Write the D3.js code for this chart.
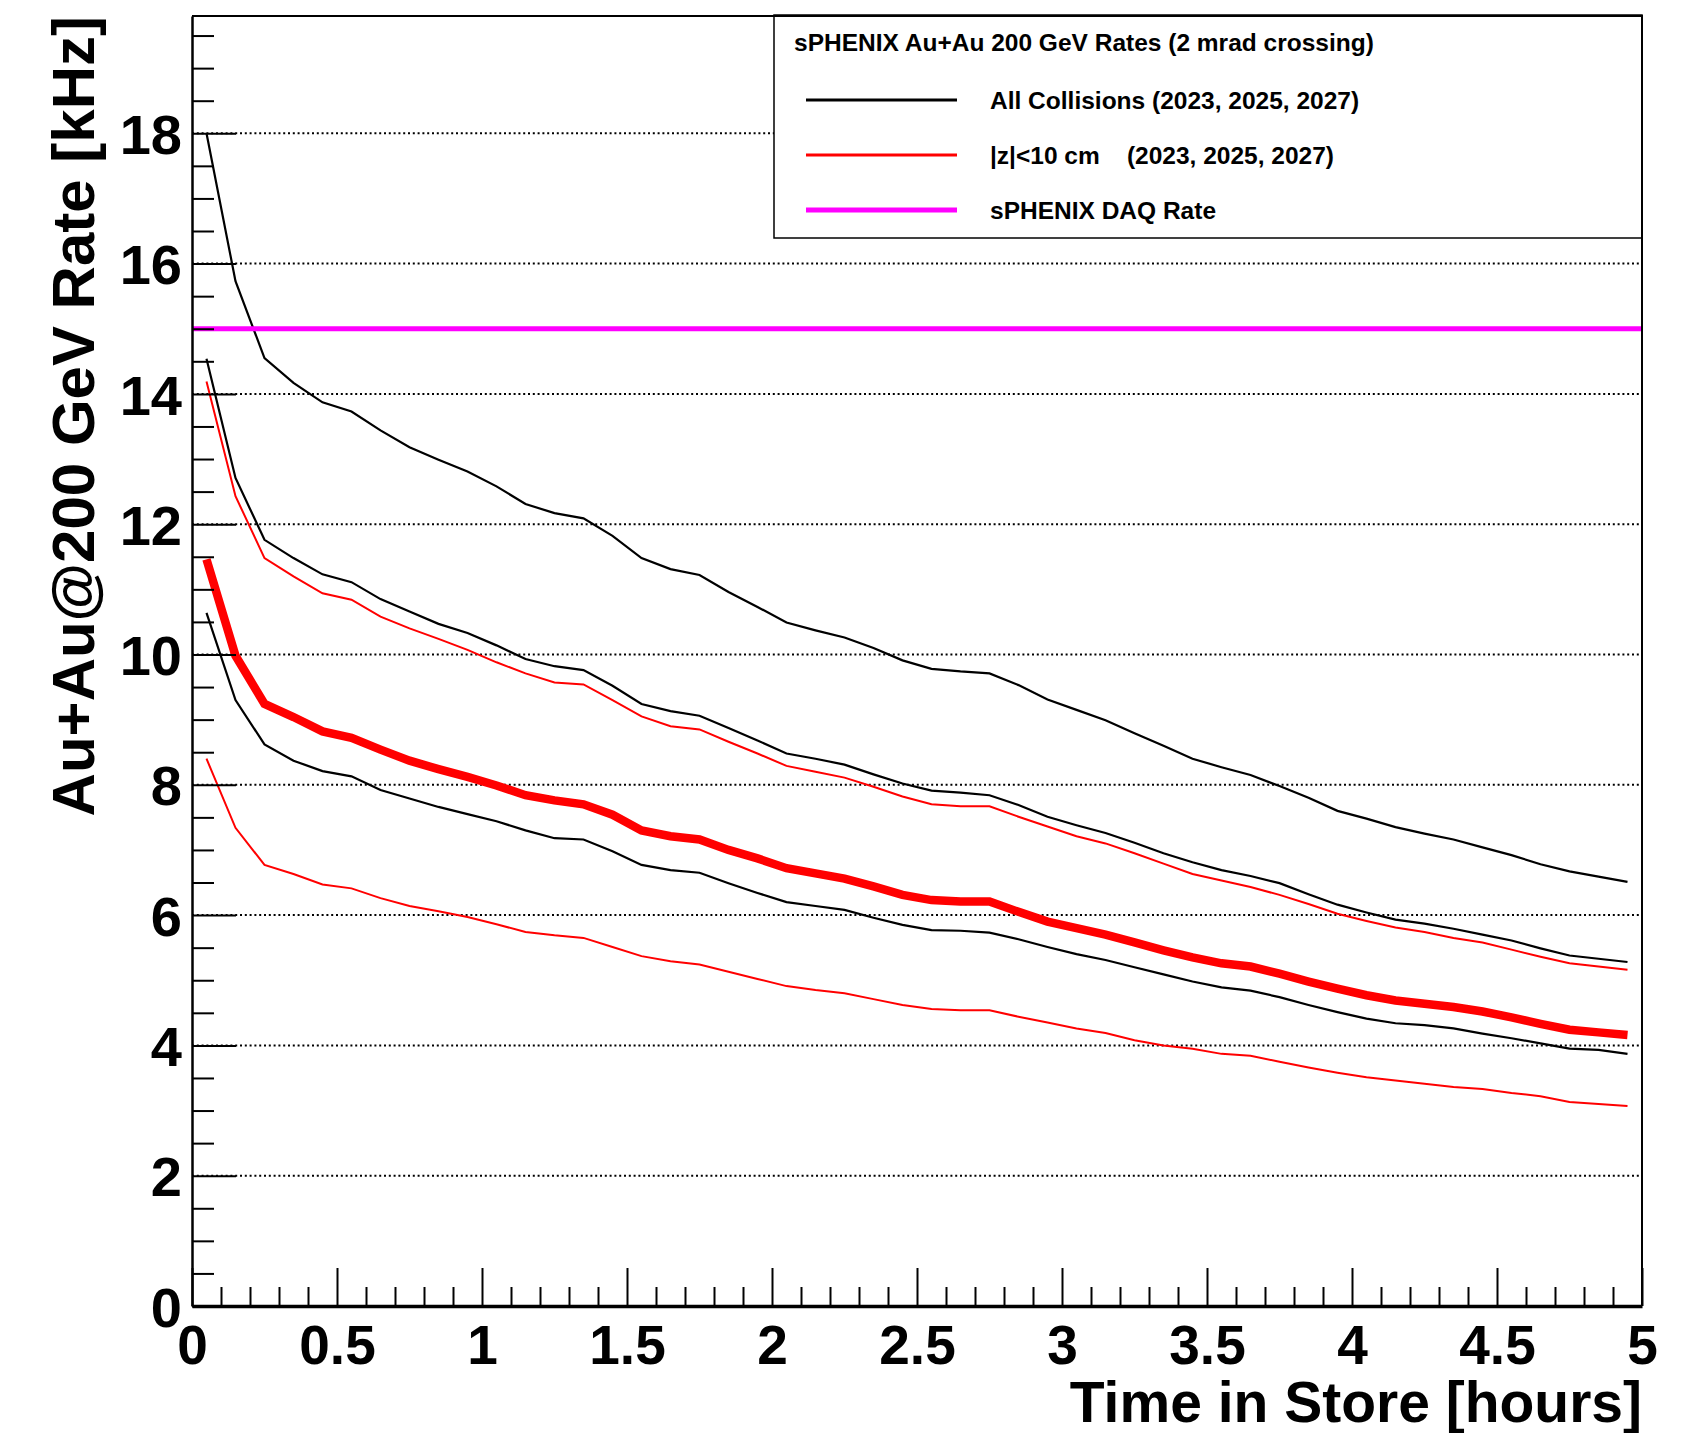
<!DOCTYPE html>
<meta charset="utf-8">
<head>
  <title>sPHENIX Au+Au 200 GeV rates</title>
</head>

<style>
  body {
    margin: 0;
    background: #fff;
  }
  svg {
    display: block;
    font-family: "Liberation Sans", Arial, Helvetica, sans-serif;
    font-weight: bold;
  }
  .grid line {
    stroke: #000;
    stroke-width: 2;
    stroke-dasharray: 2, 2.8;
  }
  .curve {
    fill: none;
  }
  .axis {
    font-family: "Liberation Sans", Arial, Helvetica, sans-serif;
    font-weight: bold;
  }
  .axis line {
    stroke: #000;
    stroke-width: 2;
  }
  .axis text {
    fill: #000;
  }
</style>

<body>
  <svg width="1681" height="1433"></svg>

  <script src="https://cdn.jsdelivr.net/npm/d3@7"></script>

  <script>
    // bin centres, hours in store
    var hours = [0.05, 0.15, 0.25, 0.35, 0.45, 0.55, 0.65, 0.75, 0.85, 0.95,
                 1.05, 1.15, 1.25, 1.35, 1.45, 1.55, 1.65, 1.75, 1.85, 1.95,
                 2.05, 2.15, 2.25, 2.35, 2.45, 2.55, 2.65, 2.75, 2.85, 2.95,
                 3.05, 3.15, 3.25, 3.35, 3.45, 3.55, 3.65, 3.75, 3.85, 3.95,
                 4.05, 4.15, 4.25, 4.35, 4.45, 4.55, 4.65, 4.75, 4.85, 4.95];

    // all collisions, three years (black)
    var allHigh = [18.0, 15.73, 14.55, 14.17, 13.87, 13.73, 13.44, 13.18, 12.99, 12.81,
                   12.58, 12.31, 12.17, 12.09, 11.82, 11.48, 11.31, 11.22, 10.96, 10.73,
                   10.49, 10.37, 10.26, 10.10, 9.91, 9.78, 9.74, 9.71, 9.53, 9.31,
                   9.15, 8.99, 8.79, 8.60, 8.40, 8.27, 8.15, 7.98, 7.80, 7.60,
                   7.48, 7.35, 7.25, 7.16, 7.04, 6.92, 6.78, 6.67, 6.59, 6.51];
    var allMid = [14.54, 12.71, 11.76, 11.48, 11.23, 11.11, 10.85, 10.66, 10.47, 10.33,
                  10.14, 9.93, 9.82, 9.76, 9.52, 9.24, 9.13, 9.06, 8.87, 8.68,
                  8.48, 8.40, 8.31, 8.16, 8.02, 7.91, 7.88, 7.84, 7.69, 7.51,
                  7.38, 7.26, 7.11, 6.95, 6.81, 6.69, 6.60, 6.49, 6.32, 6.16,
                  6.04, 5.93, 5.87, 5.79, 5.70, 5.61, 5.49, 5.38, 5.33, 5.28];
    var allLow = [10.64, 9.30, 8.62, 8.37, 8.21, 8.13, 7.92, 7.79, 7.66, 7.55,
                  7.44, 7.30, 7.18, 7.16, 6.98, 6.77, 6.69, 6.65, 6.49, 6.34,
                  6.20, 6.14, 6.08, 5.96, 5.85, 5.77, 5.76, 5.73, 5.63, 5.51,
                  5.40, 5.31, 5.20, 5.09, 4.98, 4.89, 4.84, 4.74, 4.62, 4.51,
                  4.41, 4.34, 4.31, 4.26, 4.18, 4.11, 4.03, 3.95, 3.93, 3.87];

    // |z|<10 cm, three years (red)
    var zHigh = [14.19, 12.43, 11.48, 11.20, 10.94, 10.84, 10.58, 10.40, 10.24, 10.07,
                 9.88, 9.71, 9.57, 9.54, 9.30, 9.05, 8.90, 8.85, 8.66, 8.48,
                 8.29, 8.20, 8.11, 7.97, 7.82, 7.70, 7.67, 7.67, 7.51, 7.36,
                 7.21, 7.10, 6.95, 6.79, 6.63, 6.53, 6.43, 6.31, 6.17, 6.02,
                 5.91, 5.81, 5.74, 5.65, 5.58, 5.47, 5.36, 5.26, 5.21, 5.16];
    var zThick = [11.46, 9.98, 9.24, 9.04, 8.82, 8.72, 8.54, 8.37, 8.24, 8.12,
                  7.99, 7.84, 7.76, 7.70, 7.54, 7.30, 7.21, 7.16, 7.00, 6.87,
                  6.72, 6.64, 6.56, 6.44, 6.31, 6.23, 6.21, 6.21, 6.05, 5.90,
                  5.80, 5.70, 5.58, 5.46, 5.35, 5.26, 5.21, 5.10, 4.98, 4.87,
                  4.77, 4.69, 4.64, 4.59, 4.52, 4.43, 4.33, 4.24, 4.20, 4.16];
    var zLow = [8.40, 7.34, 6.77, 6.63, 6.47, 6.41, 6.26, 6.14, 6.06, 5.97,
                5.86, 5.74, 5.69, 5.65, 5.51, 5.37, 5.29, 5.24, 5.13, 5.02,
                4.91, 4.85, 4.80, 4.71, 4.62, 4.56, 4.54, 4.54, 4.44, 4.35,
                4.26, 4.19, 4.08, 4.00, 3.95, 3.87, 3.84, 3.75, 3.66, 3.58,
                3.51, 3.46, 3.41, 3.36, 3.33, 3.27, 3.22, 3.13, 3.10, 3.07];

    var daqRate = 15;

    // axis ticks
    var yMajor = [0, 2, 4, 6, 8, 10, 12, 14, 16, 18];
    var yMinor = [0.5, 1, 1.5, 2.5, 3, 3.5, 4.5, 5, 5.5, 6.5, 7, 7.5, 8.5, 9, 9.5,
                  10.5, 11, 11.5, 12.5, 13, 13.5, 14.5, 15, 15.5, 16.5, 17, 17.5,
                  18.5, 19, 19.5];
    var xMajor = [0, 0.5, 1, 1.5, 2, 2.5, 3, 3.5, 4, 4.5, 5];
    var xMinor = [0.1, 0.2, 0.3, 0.4, 0.6, 0.7, 0.8, 0.9, 1.1, 1.2, 1.3, 1.4,
                  1.6, 1.7, 1.8, 1.9, 2.1, 2.2, 2.3, 2.4, 2.6, 2.7, 2.8, 2.9,
                  3.1, 3.2, 3.3, 3.4, 3.6, 3.7, 3.8, 3.9, 4.1, 4.2, 4.3, 4.4,
                  4.6, 4.7, 4.8, 4.9];

    var legendTitle = "sPHENIX Au+Au 200 GeV Rates (2 mrad crossing)";
    var legendLabels = ["All Collisions (2023, 2025, 2027)",
                        "|z|<10 cm\u00a0\u00a0\u00a0\u00a0(2023, 2025, 2027)",
                        "sPHENIX DAQ Rate"];
    var legendColors = ["#000", "#ff0000", "#ff00ff"];

    var svg = d3.select("svg");

    // plot frame
    var frameL = 192, frameR = 1642, frameT = 16, frameB = 1306;

    var x = d3.scaleLinear().domain([0, 5]).range([frameL, frameR]);
    var y = d3.scaleLinear().domain([0, 19.8]).range([frameB, frameT]);

    // dotted grid at the labelled y values
    svg.append("g")
        .attr("class", "grid")
      .selectAll("line")
        .data(yMajor.filter(function(d) { return d > 0; }))
      .enter().append("line")
        .attr("x1", frameL)
        .attr("x2", frameR)
        .attr("y1", function(d) { return y(d); })
        .attr("y2", function(d) { return y(d); });

    // curves
    var line = d3.line()
        .x(function(d, i) { return x(hours[i]); })
        .y(function(d) { return y(d); });

    var curves = [
      {values: allHigh, color: "#000", width: 2.2},
      {values: allMid, color: "#000", width: 2.2},
      {values: allLow, color: "#000", width: 2.2},
      {values: zHigh, color: "#ff0000", width: 2},
      {values: zLow, color: "#ff0000", width: 2},
      {values: zThick, color: "#ff0000", width: 8.5}
    ];

    svg.append("g").selectAll("path")
        .data(curves)
      .enter().append("path")
        .attr("class", "curve")
        .attr("d", function(d) { return line(d.values); })
        .attr("stroke", function(d) { return d.color; })
        .attr("stroke-width", function(d) { return d.width; });

    // DAQ rate limit
    svg.append("line")
        .attr("x1", x(0))
        .attr("x2", x(5))
        .attr("y1", y(daqRate))
        .attr("y2", y(daqRate))
        .attr("stroke", "#ff00ff")
        .attr("stroke-width", 5);

    // legend
    var legend = svg.append("g");
    legend.append("rect")
        .attr("x", 774)
        .attr("y", 15)
        .attr("width", frameR - 774)
        .attr("height", 223)
        .attr("fill", "#fff")
        .attr("stroke", "#000")
        .attr("stroke-width", 1.5);
    legend.append("text")
        .attr("x", 794)
        .attr("y", 51)
        .attr("font-size", "24.5px")
        .text(legendTitle);

    var rows = legend.selectAll("g.row")
        .data(legendLabels)
      .enter().append("g")
        .attr("class", "row")
        .attr("transform", function(d, i) { return "translate(0," + (100 + i * 55) + ")"; });
    rows.append("line")
        .attr("x1", 806)
        .attr("x2", 957)
        .attr("stroke", function(d, i) { return legendColors[i]; })
        .attr("stroke-width", function(d, i) { return i == 2 ? 5 : 3; });
    rows.append("text")
        .attr("x", 990)
        .attr("dy", "0.35em")
        .attr("font-size", "24.5px")
        .text(function(d) { return d; });

    // frame top / right
    svg.append("path")
        .attr("d", "M" + frameL + "," + frameT + "H" + frameR + "V" + frameB)
        .attr("fill", "none")
        .attr("stroke", "#000")
        .attr("stroke-width", 2);

    // y axis
    svg.append("g")
        .attr("class", "axis")
        .attr("transform", "translate(" + frameL + ",0)")
        .call(d3.axisLeft(y).tickValues(yMinor).tickSize(-22).tickSizeOuter(0).tickFormat(""))
        .call(function(g) { g.select(".domain").remove(); });

    var yAxis = svg.append("g")
        .attr("class", "axis")
        .attr("transform", "translate(" + frameL + ",0)")
        .call(d3.axisLeft(y).tickValues(yMajor).tickSize(-44).tickSizeOuter(0).tickPadding(10)
          .tickFormat(d3.format("d")));
    yAxis.select(".domain").attr("stroke-width", 2.5);
    yAxis.selectAll("text").attr("font-size", "56px").attr("dy", "0.36em");

    // x axis
    svg.append("g")
        .attr("class", "axis")
        .attr("transform", "translate(0," + frameB + ")")
        .call(d3.axisBottom(x).tickValues(xMinor).tickSize(-19).tickSizeOuter(0).tickFormat(""))
        .call(function(g) { g.select(".domain").remove(); });

    var xAxis = svg.append("g")
        .attr("class", "axis")
        .attr("transform", "translate(0," + frameB + ")")
        .call(d3.axisBottom(x).tickValues(xMajor).tickSize(-38).tickSizeOuter(0).tickPadding(19)
          .tickFormat(function(d) { return String(d); }));
    xAxis.select(".domain").attr("stroke-width", 3.5);
    xAxis.selectAll("text").attr("font-size", "55px");

    // axis titles
    svg.append("text")
        .attr("x", frameR)
        .attr("y", 1422)
        .attr("text-anchor", "end")
        .attr("font-size", "57px")
        .text("Time in Store [hours]");

    svg.append("text")
        .attr("transform", "translate(94," + frameT + ") rotate(-90)")
        .attr("text-anchor", "end")
        .attr("font-size", "60px")
        .text("Au+Au@200 GeV Rate [kHz]");
  </script>
</body>
</html>
